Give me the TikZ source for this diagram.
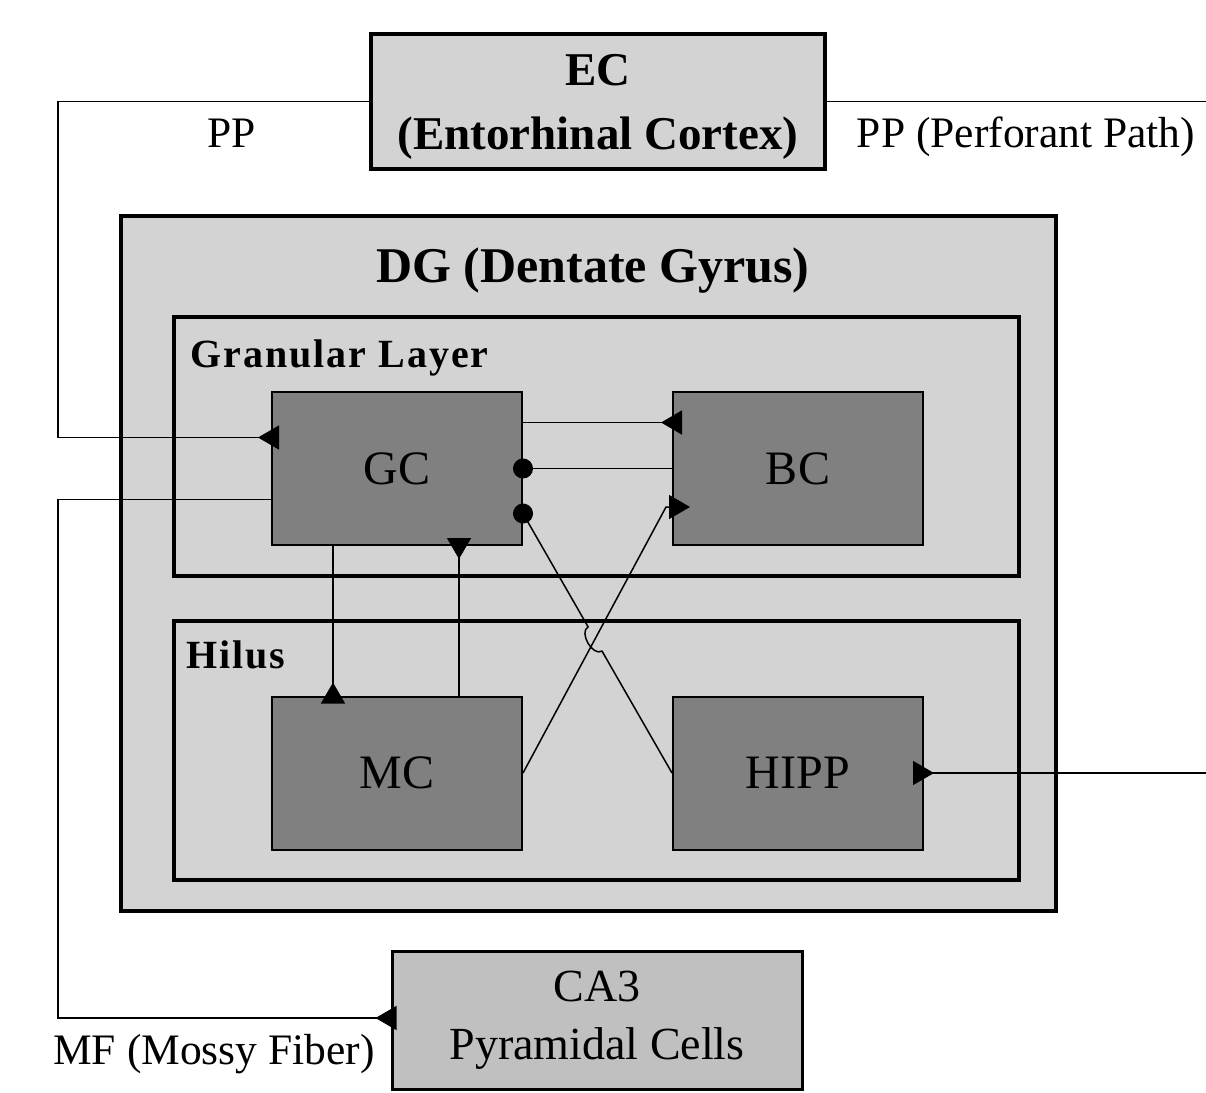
\documentclass[tikz,border=0pt]{standalone}
\usepackage{fontspec}
\setmainfont{Liberation Serif}
\usepackage{xcolor}
\usetikzlibrary{arrows.meta,calc,intersections}

\definecolor{panelgray}{RGB}{211,211,211}
\definecolor{cellgray}{RGB}{128,128,128}
\definecolor{targetgray}{RGB}{192,192,192}

\begin{document}
\begin{tikzpicture}[x=1pt, y=-1pt,
    region/.style={rectangle, draw, line width=3.5pt, fill=panelgray},
    cell/.style={rectangle, draw, line width=2pt, fill=cellgray, minimum width=250pt, minimum height=153pt, font=\fontsize{48}{58}\selectfont},
    layername/.style={anchor=base west, inner sep=0pt, font=\bfseries\fontsize{40}{48}\selectfont\addfontfeature{LetterSpace=5}},
    pathname/.style={anchor=base, inner sep=0pt, font=\fontsize{43.5}{52}\selectfont},
    link/.style={line width=1.5pt},
    revarrow/.style={link, -{Triangle[reversed, length=21pt, width=24pt]}},
    fwdarrow/.style={link, -{Triangle[length=21pt, width=24pt]}},
    dotend/.style={link, -{Circle[length=20pt]}}
]
    \useasboundingbox (0,0) rectangle (1206,1092);
    \clip (0,0) rectangle (1206,1092);
    \fill[white] (0,0) rectangle (1206,1092);

    \node[region, minimum width=454pt, minimum height=135pt, align=center, font=\bfseries\fontsize{47}{64}\selectfont] (EC) at (598,101.5) {\rule{0pt}{42pt}EC\\(Entorhinal Cortex)};
    \node[region, minimum width=935pt, minimum height=695pt] (DG) at (588.5,563.5) {};
    \node[anchor=base, inner sep=0pt, font=\bfseries\fontsize{50}{60}\selectfont] (DGname) at (593,282) {DG (Dentate Gyrus)};
    \node[region, minimum width=845pt, minimum height=259pt] (GL) at (596.5,446.5) {};
    \node[region, minimum width=845pt, minimum height=259pt] (HL) at (596.5,750.5) {};
    \node[layername] (GLname) at (190,367) {Granular Layer};
    \node[layername] (HLname) at (186,668) {Hilus};
    \node[cell] (GC) at (397,468.5) {GC};
    \node[cell] (BC) at (798,468.5) {BC};
    \node[cell] (MC) at (397,773) {MC};
    \node[cell] (HIPP) at (798,773) {HIPP};
    \node[region, line width=3pt, fill=targetgray, minimum width=410pt, minimum height=138pt, align=center, font=\fontsize{46}{58}\selectfont] (CA3) at (597,1020) {CA3\\Pyramidal Cells};

    \node[pathname] (PPin) at (232,147) {PP};
    \node[pathname] (PPname) at (1026,147) {PP (Perforant Path)};
    \node[pathname] (MFname) at (214,1064) {MF (Mossy Fiber)};

    \coordinate (pprail) at (58,300);
    \coordinate (mfrail) at (58,800);
    \coordinate (outrail) at (1240,400);
    \draw[revarrow] (EC.west) -| (pprail) |- ($(GC.west)+(8,-31)$);
    \draw[revarrow] ($(GC.west)+(0,31)$) -| (mfrail) |- ($(CA3.west)+(6,-2)$);
    \draw[revarrow] (EC.east) -| (outrail) |- ($(HIPP.east)+(-11,0)$);

    \draw[revarrow] ($(GC.south)+(-64,0)$) -- ($(MC.north)+(-64,8)$);
    \draw[revarrow] ($(MC.north)+(62,0)$) -- ($(GC.south)+(62,-8)$);
    \draw[revarrow] ($(GC.east)+(0,-46)$) -- ($(BC.west)+(10,-46)$);
    \draw[dotend] (BC.west) -- ($(GC.east)+(-10,0)$);

    \coordinate (bcport) at ($(BC.west)+(-6,38.5)$);
    \coordinate (gcport) at ($(GC.east)+(0,45)$);
    \draw[fwdarrow, name path=mcbc] (MC.east) -- (bcport) -- ($(BC.west)+(18,38.5)$);
    \path[name path=hipgc] (gcport) -- (HIPP.west);
    \path[name intersections={of=mcbc and hipgc, by=cross}];
    \draw[dotend] (HIPP.west) -- ($(cross)!14pt!(HIPP.west)$) to[bend left=90] ($(cross)!14pt!(gcport)$) -- ($(gcport)!-10pt!(HIPP.west)$);
\end{tikzpicture}
\end{document}
